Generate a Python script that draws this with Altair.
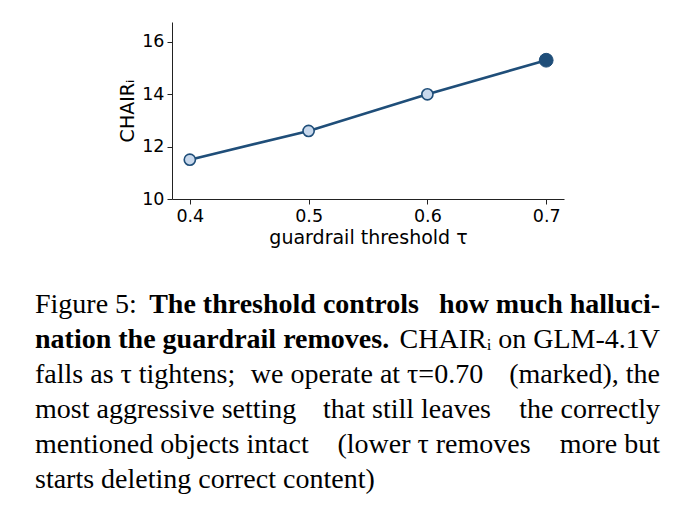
import altair as alt
import pandas as pd

thresholds = [0.4, 0.5, 0.6, 0.7]
chair_i = [11.5, 12.6, 14.0, 15.3]
selected = [False, False, False, True]

x_ticks = [0.4, 0.5, 0.6, 0.7]
y_ticks = [10, 12, 14, 16]

# caption text, one list of (left, middle, right) pieces per justified line
caption_lines = [
    [("Figure 5:", "normal"), ("The threshold controls", "bold"), ("how much halluci-", "bold")],
    [("nation the guardrail removes.", "bold"), ("", "normal"), ("CHAIRᵢ on GLM-4.1V", "normal")],
    [("falls as τ tightens;", "normal"), ("we operate at τ=0.70", "normal"), ("(marked), the", "normal")],
    [("most aggressive setting", "normal"), ("that still leaves", "normal"), ("the correctly", "normal")],
    [("mentioned objects intact", "normal"), ("(lower τ removes", "normal"), ("more but", "normal")],
    [("starts deleting correct content)", "normal"), ("", "normal"), ("", "normal")],
]

# layout (pixels relative to plot area)
CAP_LEFT, CAP_RIGHT = -137, 488
CAP_MIDDLE = [112, 0, 195, 235, 262, 0]
CAP_TOP, CAP_STEP = 291, 35

DARK = "#1f4e79"
LIGHT = "#c8d8ec"

df = pd.DataFrame({"tau": thresholds, "chair": chair_i, "sel": selected})

W, H = 392, 177

axis_common = dict(grid=False, tickSize=5, labelFontSize=17.5, titleFontSize=19,
                   labelFont="DejaVu Sans", titleFont="DejaVu Sans",
                   titleFontWeight="normal", labelColor="black", titleColor="black",
                   domainColor="#222", tickColor="#222", labelPadding=3)

x_enc = alt.X("tau:Q", scale=alt.Scale(domain=[0.385, 0.715], nice=False, zero=False),
              axis=alt.Axis(values=x_ticks, format=".1f", title="guardrail threshold τ",
                            titlePadding=4, **axis_common))
y_enc = alt.Y("chair:Q", scale=alt.Scale(domain=[10, 16.76], nice=False, zero=False),
              axis=alt.Axis(values=y_ticks, title="CHAIRᵢ", titlePadding=4, **axis_common))

line = alt.Chart(df).mark_line(color=DARK, strokeWidth=2.6).encode(x=x_enc, y=y_enc)
pts = alt.Chart(df).transform_filter("!datum.sel").mark_point(
    filled=True, fill=LIGHT, stroke=DARK, strokeWidth=1.6, size=125, opacity=1
).encode(x="tau:Q", y="chair:Q")
sel = alt.Chart(df).transform_filter("datum.sel").mark_point(
    filled=True, fill=DARK, stroke=DARK, strokeWidth=1, size=190, opacity=1
).encode(x="tau:Q", y="chair:Q")

caps = []
for i, pieces in enumerate(caption_lines):
    ypos = CAP_TOP + CAP_STEP * i
    spots = [("left", CAP_LEFT), ("center", CAP_MIDDLE[i]), ("right", CAP_RIGHT)]
    for (txt, weight), (align, xpos) in zip(pieces, spots):
        if not txt:
            continue
        caps.append(
            alt.Chart(pd.DataFrame({"text": [txt]})).mark_text(
                font="Liberation Serif", fontSize=28, align=align, baseline="alphabetic",
                fontWeight=weight, color="black", clip=False
            ).encode(x=alt.value(xpos), y=alt.value(ypos), text="text:N")
        )

chart = alt.layer(line, pts, sel, *caps).properties(
    width=W, height=H,
    padding={"left": 164, "top": 14, "right": 119, "bottom": 303},
    autosize=alt.AutoSizeParams(type="none"),
).configure(background="white", view=alt.ViewConfig(stroke=None))

chart.save("out.html", embed_options={"renderer": "svg", "actions": False})
